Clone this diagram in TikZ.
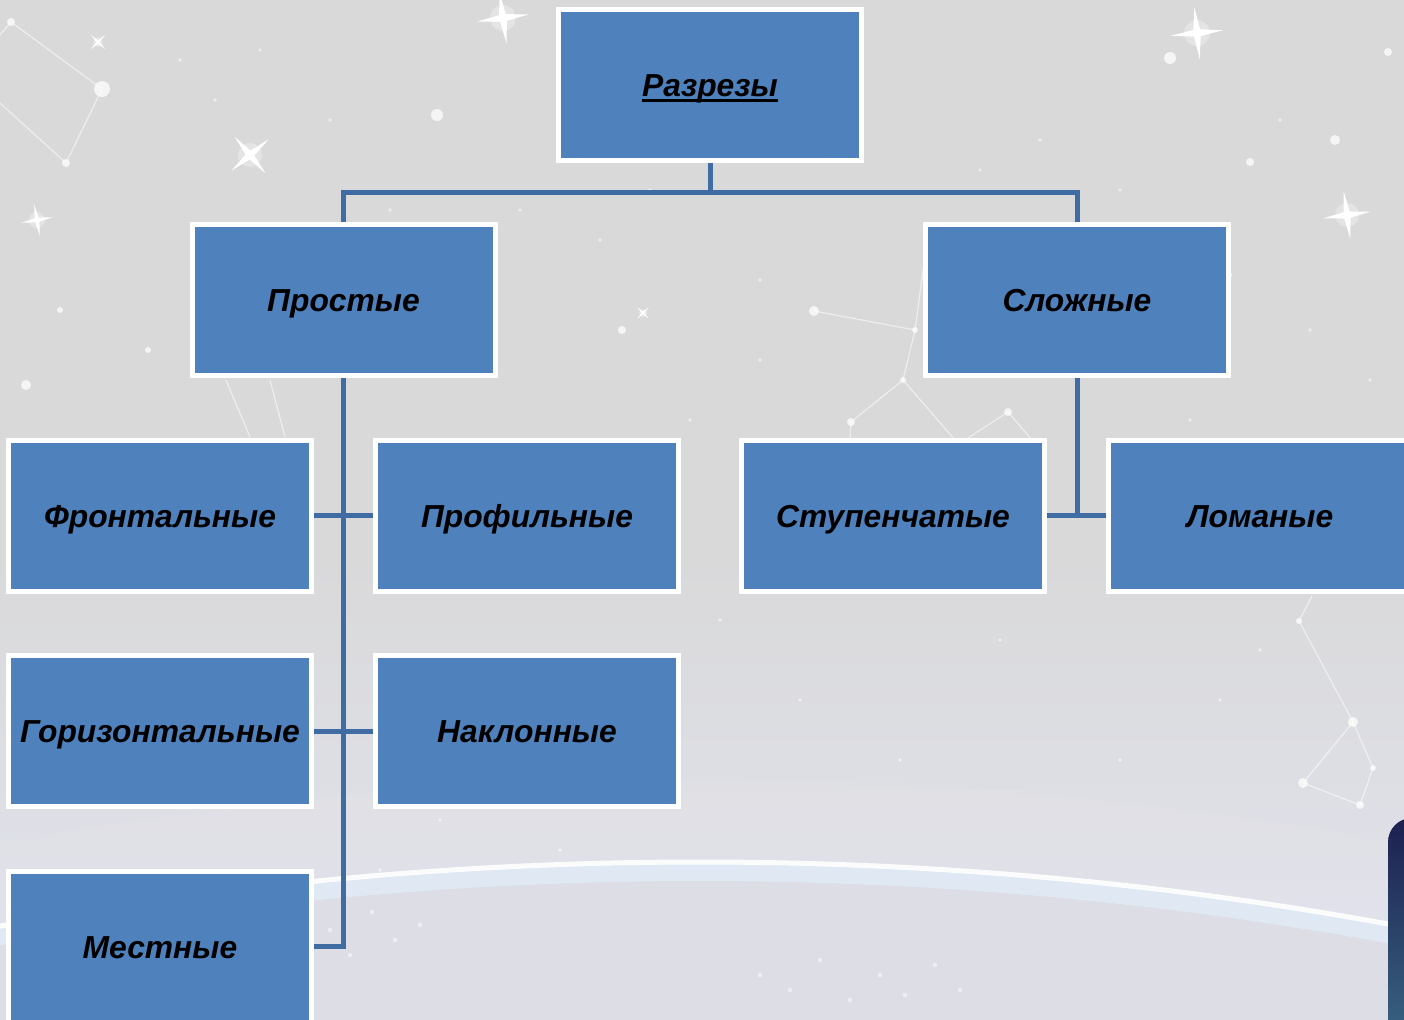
\documentclass[tikz,border=0pt]{standalone}
\usepackage{fontspec}
\setmainfont{Liberation Sans}
\definecolor{boxblue}{HTML}{4F81BD}
\definecolor{linkblue}{HTML}{3F6CA2}
\definecolor{skygrey}{HTML}{D9D9DA}
\definecolor{hazeblue}{HTML}{E2E4EF}
\definecolor{earthgrey}{HTML}{DCDDE5}
\definecolor{rimblue}{HTML}{E3EEF9}
\definecolor{nightblue}{HTML}{1C2050}
\definecolor{deepteal}{HTML}{3C6A86}
\pgfdeclarelayer{sky}
\pgfdeclarelayer{links}
\pgfsetlayers{sky,links,main}
% word with a thick underline drawn through the descenders
\newcommand\ulword[1]{\setbox0=\hbox{#1}\rlap{\rule[-4.8pt]{\wd0}{2.8pt}}\box0}
\begin{document}
\begin{tikzpicture}[x=1pt,y=-1pt,
  box/.style={draw=white, line width=5pt, fill=boxblue, rectangle,
    minimum width=303pt, minimum height=151pt, inner sep=0pt,
    text height=23pt, text depth=0pt,
    font=\fontsize{31.8}{38}\selectfont\bfseries\itshape, text=black},
  link/.style={draw=linkblue, line width=5pt, line join=miter},
  conline/.style={white, opacity=.55, line width=1.2pt},
  sparkle/.pic={
    \fill[white, opacity=.3] (0,0) circle (.5);
    \fill[white] (0,-1)--(.13,-.13)--(1,0)--(.13,.13)--(0,1)--(-.13,.13)--(-1,0)--(-.13,-.13)--cycle;},
  starlet/.style={fill=white, opacity=.75}]
\useasboundingbox (0,0) rectangle (1404,1019);

% ---------- diagram boxes ----------
\node[box] (razr)  at (710,85.5)  {\ulword{Разрезы}};
\node[box] (prost) at (343.5,300) {Простые};
\node[box] (slozh) at (1077,300)  {Сложные};
\node[box] (front) at (160,515.5) {Фронтальные};
\node[box] (prof)  at (527,515.5) {Профильные};
\node[box] (stup)  at (893,515.5) {Ступенчатые};
\node[box] (lom)   at (1260,515.5){Ломаные};
\node[box] (gor)   at (160,731)   {Горизонтальные};
\node[box] (nakl)  at (527,731)   {Наклонные};
\node[box] (mest)  at (160,946.5) {Местные};
\coordinate (split) at (710,192);

% ---------- connectors ----------
\begin{pgfonlayer}{links}
  \draw[link] (razr.south) -- (split);
  \draw[link] (prost.north) |- (split) -| (slozh.north);
  \draw[link] (prost.south) |- (mest.east);
  \draw[link] (front.east) -- (prof.west);
  \draw[link] (gor.east) -- (nakl.west);
  \draw[link] (slozh.south) -- (slozh.south |- stup.east);
  \draw[link] (stup.east) -- (lom.west);
\end{pgfonlayer}

% ---------- starry backdrop with the planet rim ----------
\begin{pgfonlayer}{sky}
\begin{scope}
  \clip (0,0) rectangle (1404,1019);
  \fill[skygrey] (0,0) rectangle (1404,1019);
  \shade[top color=skygrey, bottom color=hazeblue] (0,560) rectangle (1404,1019);
  % soft glow above the horizon
  \foreach \i in {1,...,24}
    \fill[white, opacity=.03] (700,4672) circle (3810+3.5*\i);
  \fill[earthgrey] (700,4672) circle (3810);
  \draw[rimblue, line width=18pt, opacity=.7] (700,4672) circle (3800);
  \draw[white, line width=5pt, opacity=.9] (700,4672) circle (3810);
  % faint lights on the planet
  \foreach \x/\y in {330/930,350/955,372/912,395/940,420/925,760/975,790/990,820/960,850/1000,880/975,905/995,935/965,960/990}
    \fill[white, opacity=.5] (\x,\y) circle (2.2);
  % constellation lines
  \draw[conline] (0,35) -- (11,22) -- (102,89) -- (66,163) -- (0,103);
  \draw[conline] (814,311) -- (915,330) -- (903,380) -- (851,422) -- (850,440);
  \draw[conline] (925,255) -- (915,330);
  \draw[conline] (903,380) -- (955,440);
  \draw[conline] (1008,412) -- (965,440);
  \draw[conline] (1008,412) -- (1032,440);
  \draw[conline] (1312,596) -- (1299,621) -- (1353,722) -- (1303,783) -- (1360,805) -- (1373,768) -- (1353,722);
  \draw[conline] (226,380) -- (250,437);
  \draw[conline] (270,380) -- (285,437);
  \foreach \x/\y/\r in {11/22/4,102/89/8,66/163/4,814/311/5,915/330/3,903/380/3,851/422/4,1008/412/4,
      1299/621/3,1353/722/5,1303/783/5,1360/805/4,1373/768/3,1170/58/6,1335/140/5,437/115/6,
      26/385/5,1228/275/4,622/330/4,1250/162/4,60/310/3,148/350/3,1388/52/4}
    \fill[starlet] (\x,\y) circle (\r);
  % scattered specks
  \foreach \x/\y in {180/60,215/100,260/50,330/120,390/210,470/260,520/210,600/240,650/190,760/280,
      980/170,1040/140,1120/190,1280/120,1310/330,1370/380,1190/420,1260/650,1220/700,1120/760,
      720/620,800/700,900/760,1000/640,560/850,440/820,380/870,690/420,760/360,1300/470}
    \fill[white, opacity=.55] (\x,\y) circle (1.8);
  % sparkling stars
  \pic[scale=26, rotate=8] at (503,18) {sparkle};
  \pic[scale=26, rotate=6] at (1197,33) {sparkle};
  \pic[scale=24, rotate=40] at (250,155) {sparkle};
  \pic[scale=24, rotate=8] at (1347,215) {sparkle};
  \pic[scale=16, rotate=10] at (37,220) {sparkle};
  \pic[scale=10, rotate=45] at (98,42) {sparkle};
  \pic[scale=8, rotate=45] at (643,313) {sparkle};
  % dark panel peeking in at the lower right
  \shade[top color=nightblue, bottom color=deepteal, rounded corners=24pt]
    (1388,1060) rectangle (1440,818);
\end{scope}
\end{pgfonlayer}
\end{tikzpicture}
\end{document}
